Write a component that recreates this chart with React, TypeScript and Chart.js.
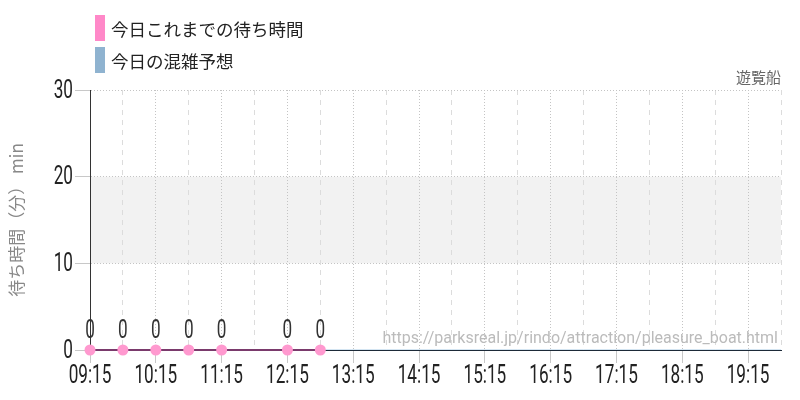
import { useEffect, useRef } from 'react'
import { Chart, registerables } from 'chart.js'

Chart.register(...registerables)

// 30-minute slots, 09:15 .. 19:45
const slots = [
  '09:15', '09:45', '10:15', '10:45', '11:15', '11:45', '12:15', '12:45',
  '13:15', '13:45', '14:15', '14:45', '15:15', '15:45', '16:15', '16:45',
  '17:15', '17:45', '18:15', '18:45', '19:15', '19:45',
]
// today's measured wait (min), null = not measured
const waitToday = [0, 0, 0, 0, 0, null, 0, 0, null, null, null, null, null, null, null, null, null, null, null, null, null, null]
// today's forecast (min)
const forecast = [0, 0, 0, 0, 0, 0, 0, 0, 0, 0, 0, 0, 0, 0, 0, 0, 0, 0, 0, 0, 0, 0]
const yTicks = [0, 10, 20, 30]
const band = [10, 20]

const NUM_FONT = "26px Roboto, sans-serif"
const NUM_SQUEEZE = 0.66
const JP_FONT = "'Noto Sans CJK JP', sans-serif"
const URL = 'https://parksreal.jp/rindo/attraction/pleasure_boat.html'

// narrow numerals like the original's condensed face
function narrowText(ctx: CanvasRenderingContext2D, text: string, x: number, y: number, align: CanvasTextAlign) {
  ctx.save()
  ctx.translate(x, y)
  ctx.scale(NUM_SQUEEZE, 1)
  ctx.textAlign = align
  ctx.fillText(text, 0, 0)
  ctx.restore()
}

const bandPlugin = {
  id: 'band',
  beforeDraw(chart: any) {
    const { ctx, chartArea, scales } = chart
    const y1 = scales.y.getPixelForValue(band[1])
    const y0 = scales.y.getPixelForValue(band[0])
    ctx.save()
    ctx.fillStyle = '#f2f2f2'
    ctx.fillRect(chartArea.left, y1, chartArea.right - chartArea.left, y0 - y1)
    ctx.restore()
  },
}

const labelPlugin = {
  id: 'labels',
  afterDraw(chart: any) {
    const { ctx, chartArea, scales } = chart
    ctx.save()
    ctx.font = NUM_FONT
    ctx.fillStyle = '#222'
    ctx.textBaseline = 'middle'
    // x tick labels, hours only
    scales.x.ticks.forEach((_t: any, i: number) => {
      if (i % 2 !== 0) return
      narrowText(ctx, slots[i], scales.x.getPixelForTick(i), scales.x.top + 26, 'center')
    })
    // y tick labels
    scales.y.ticks.forEach((t: any) => {
      narrowText(ctx, String(t.value), scales.y.right - 17, scales.y.getPixelForValue(t.value) + 1, 'right')
    })
    // point values
    ctx.fillStyle = '#333'
    const meta = chart.getDatasetMeta(0)
    meta.data.forEach((pt: any, i: number) => {
      const v = waitToday[i]
      if (v == null) return
      narrowText(ctx, String(v), pt.x, pt.y - 19, 'center')
    })
    // source url
    ctx.font = `16px Roboto, sans-serif`
    ctx.fillStyle = '#bbb'
    ctx.textAlign = 'right'
    ctx.textBaseline = 'bottom'
    ctx.fillText(URL, chartArea.right - 3, chartArea.bottom - 3)
    ctx.restore()
  },
}

export default function App() {
  const canvasRef = useRef<HTMLCanvasElement | null>(null)

  useEffect(() => {
    document.body.style.margin = '0'
    if (!canvasRef.current) return
    const ctx = canvasRef.current.getContext('2d')
    if (!ctx) return

    const chart = new Chart(ctx, {
      type: 'line',
      data: {
        labels: slots,
        datasets: [
          {
            label: '今日これまでの待ち時間',
            data: waitToday,
            borderColor: '#7a3a6c',
            borderWidth: 2,
            pointBackgroundColor: '#ff99cf',
            pointBorderWidth: 0,
            pointRadius: 5.5,
            spanGaps: true,
            clip: false,
          },
          {
            label: '今日の混雑予想',
            data: forecast,
            borderColor: '#a8cbe4',
            borderWidth: 1,
            pointRadius: 0,
          },
        ],
      },
      options: {
        animation: false,
        responsive: false,
        layout: { padding: { top: 67, right: 19, left: 0, bottom: 0 } },
        plugins: {
          legend: { display: false },
          tooltip: { enabled: false },
          title: {
            display: true,
            text: '遊覧船',
            align: 'end',
            color: '#666',
            font: { family: JP_FONT, size: 15, weight: 'normal' },
            padding: { top: 1, bottom: 4 },
          },
        },
        scales: {
          x: {
            offset: false,
            afterFit: (s: any) => { s.height = 50 },
            grid: {
              color: (c: any) => (c.index % 2 === 0 ? '#c4c4c4' : '#dcdcdc'),
              tickColor: (c: any) => (c.index % 2 === 0 ? '#c8c8c8' : 'rgba(0,0,0,0)'),
              tickLength: 13,
            },
            border: {
              color: '#1d2a38',
              width: 1,
              dash: (c: any) => (c.index % 2 === 0 ? [1, 2] : [5, 5]),
            },
            ticks: { display: false, autoSkip: false },
          },
          y: {
            min: yTicks[0],
            max: yTicks[yTicks.length - 1],
            afterFit: (s: any) => { s.width = 90 },
            afterBuildTicks: (s: any) => { s.ticks = yTicks.map((v) => ({ value: v })) },
            grid: {
              color: '#c4c4c4',
              tickColor: '#c8c8c8',
              tickLength: 15,
            },
            border: { color: '#333', width: 1, dash: [1, 2] },
            ticks: { display: false },
            title: {
              display: true,
              text: '待ち時間（分） min',
              color: '#888',
              font: { family: JP_FONT, size: 17 },
              padding: { top: 6, bottom: 4 },
            },
          },
        },
      },
      plugins: [bandPlugin, labelPlugin],
    })

    return () => chart.destroy()
  }, [])

  const legendItem = (color: string, text: string) => (
    <div style={{ display: 'flex', alignItems: 'center', height: 32 }}>
      <span style={{ display: 'inline-block', width: 10, height: 26, background: color, marginRight: 6 }} />
      <span style={{ fontFamily: JP_FONT, fontSize: 17.5, color: '#222' }}>{text}</span>
    </div>
  )

  return (
    <div style={{ position: 'relative', width: 800, height: 400 }}>
      <canvas ref={canvasRef} width={800} height={400} style={{ display: 'block' }}></canvas>
      <div style={{ position: 'absolute', left: 95, top: 12 }}>
        {legendItem('#ff88c8', '今日これまでの待ち時間')}
        {legendItem('#8fb3d0', '今日の混雑予想')}
      </div>
    </div>
  )
}
